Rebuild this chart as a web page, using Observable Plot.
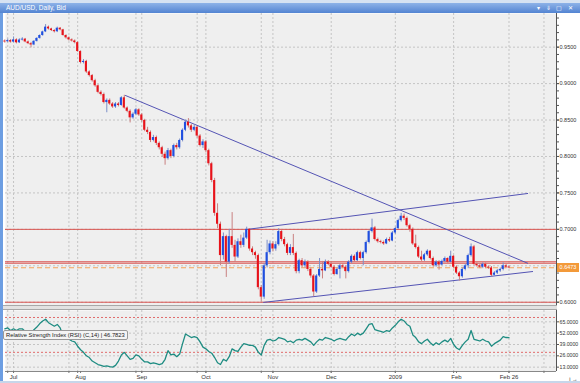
<!DOCTYPE html>
<html><head><meta charset="utf-8">
<script src="https://cdn.jsdelivr.net/npm/d3@7"></script>
<script src="https://cdn.jsdelivr.net/npm/@observablehq/plot@0.6"></script>
<style>
html,body{margin:0;padding:0;background:#fff;}
#win{position:relative;width:580px;height:383px;overflow:hidden;background:#fff;font-family:"Liberation Sans",Arial,sans-serif;}
#tab{position:absolute;left:0;top:0;width:580px;height:3px;background:#d6e2f2;}
#title{position:absolute;left:0;top:3px;width:580px;height:10px;background:linear-gradient(#8db2e8,#5384d2);}
#title span{position:absolute;left:6px;top:1px;font-size:6.5px;color:#fff;line-height:8px;}
#icons{position:absolute;right:5px;top:1px;font-size:6px;color:#fff;line-height:8px;letter-spacing:2px;}
#leftbar{position:absolute;left:0;top:13px;width:3px;height:370px;background:#6d9ee2;}
#price{position:absolute;left:0;top:13px;}
#sep{position:absolute;left:3px;top:305px;width:554px;height:5px;background:#e2e2e2;border-top:1px solid #a8a8a8;border-bottom:1px solid #a8a8a8;box-sizing:border-box;}
#rsi{position:absolute;left:0;top:310px;}
#pricetag{position:absolute;left:557px;width:22px;height:9px;background:#f39a3a;color:#fff;font-size:5.5px;line-height:9px;text-align:center;}
#rsilabel{position:absolute;left:3px;top:330px;height:8px;padding:0 2px;background:#f4f4f4;border:1px solid #999;border-radius:2px;font-size:5.8px;line-height:8px;color:#222;white-space:nowrap;}
#bottombar{position:absolute;left:0;top:381px;width:580px;height:2px;background:#c7d6ea;}
</style></head>
<body>
<div id="win">
  <div id="tab"></div>
  <div id="title"><span>AUD/USD, Daily, Bid</span><div id="icons">▾ ⇓ ▢ ✕</div></div>
  <div id="price"></div>
  <div id="sep"></div>
  <div id="rsi"></div>
  <div id="leftbar"></div>
  <div id="bottombar"></div>
</div>
<script>
// ---- data (trading-day index 0 = Jun 26 2008, 173 = Feb 26 2009) ----
const firstOpen = 0.9580;
const closes = [
0.9575,0.9590,0.9570,0.9600,0.9560,0.9598,0.9610,0.9572,0.9548,0.9530,
0.9580,0.9620,0.9660,0.9710,0.9775,0.9750,0.9728,0.9712,0.9760,0.9738,
0.9660,0.9628,0.9600,0.9585,0.9562,0.9440,0.9290,0.9305,0.9160,0.9110,
0.9040,0.8970,0.8880,0.8850,0.8740,0.8770,0.8720,0.8680,0.8720,0.8700,
0.8805,0.8665,0.8620,0.8530,0.8580,0.8640,0.8570,0.8495,0.8360,0.8330,
0.8220,0.8260,0.8180,0.8120,0.8030,0.7970,0.8080,0.8000,0.8150,0.8120,
0.8220,0.8360,0.8470,0.8420,0.8360,0.8400,0.8280,0.8150,0.8200,0.8080,
0.7900,0.7670,0.7220,0.7070,0.6640,0.6900,0.6550,0.6900,0.6780,0.6620,
0.6830,0.6780,0.6880,0.7000,0.6730,0.6680,0.6640,0.6200,0.6070,0.6500,
0.6680,0.6800,0.6730,0.6790,0.6970,0.6860,0.6790,0.6670,0.6750,0.6670,
0.6420,0.6570,0.6500,0.6550,0.6450,0.6360,0.6140,0.6360,0.6450,0.6430,
0.6550,0.6520,0.6480,0.6380,0.6450,0.6500,0.6480,0.6420,0.6550,0.6630,
0.6570,0.6680,0.6600,0.6680,0.6820,0.6970,0.7020,0.6860,0.6830,0.6820,
0.6800,0.6860,0.6840,0.6950,0.7010,0.7120,0.7180,0.7150,0.7050,0.7000,
0.6800,0.6750,0.6620,0.6580,0.6650,0.6700,0.6600,0.6500,0.6550,0.6510,
0.6560,0.6600,0.6550,0.6630,0.6480,0.6400,0.6350,0.6450,0.6500,0.6640,
0.6760,0.6520,0.6500,0.6480,0.6520,0.6480,0.6470,0.6370,0.6400,0.6430,
0.6450,0.6500,0.6480,0.6473];
const highs = [
0.9600,0.9610,0.9605,0.9640,0.9615,0.9615,0.9630,0.9620,0.9585,0.9565,
0.9590,0.9630,0.9670,0.9720,0.9810,0.9790,0.9760,0.9740,0.9775,0.9770,
0.9745,0.9670,0.9640,0.9615,0.9600,0.9575,0.9450,0.9330,0.9320,0.9175,
0.9125,0.9060,0.8985,0.8900,0.8870,0.8790,0.8790,0.8740,0.8740,0.8740,
0.8820,0.8840,0.8680,0.8640,0.8600,0.8660,0.8655,0.8590,0.8510,0.8400,
0.8350,0.8290,0.8280,0.8200,0.8140,0.8060,0.8110,0.8100,0.8170,0.8180,
0.8240,0.8380,0.8500,0.8520,0.8440,0.8430,0.8410,0.8300,0.8230,0.8220,
0.8100,0.7920,0.7700,0.7350,0.7100,0.6950,0.6920,0.7000,0.7230,0.6850,
0.6870,0.6920,0.6950,0.7030,0.7010,0.6760,0.6700,0.6660,0.6230,0.6530,
0.6850,0.6840,0.6830,0.6830,0.7010,0.6990,0.6890,0.6810,0.6790,0.6930,
0.6690,0.6590,0.6600,0.6580,0.6570,0.6470,0.6380,0.6380,0.6600,0.6560,
0.6580,0.6570,0.6540,0.6500,0.6470,0.6520,0.6520,0.6500,0.6570,0.6650,
0.6650,0.6700,0.6700,0.6700,0.6840,0.6990,0.7140,0.7040,0.6880,0.6850,
0.6840,0.6880,0.6890,0.6970,0.7030,0.7140,0.7220,0.7210,0.7170,0.7070,
0.7020,0.6920,0.6770,0.6700,0.6670,0.6720,0.6710,0.6620,0.6570,0.6570,
0.6580,0.6620,0.6610,0.6700,0.6640,0.6500,0.6420,0.6470,0.6520,0.6660,
0.6800,0.6780,0.6540,0.6520,0.6540,0.6540,0.6500,0.6490,0.6420,0.6450,
0.6470,0.6540,0.6520,0.6500];
const lows = [
0.9555,0.9560,0.9555,0.9560,0.9545,0.9550,0.9585,0.9560,0.9535,0.9490,
0.9520,0.9570,0.9610,0.9650,0.9700,0.9735,0.9715,0.9695,0.9700,0.9725,
0.9650,0.9610,0.9585,0.9570,0.9545,0.9430,0.9270,0.9270,0.9140,0.9090,
0.9020,0.8950,0.8860,0.8830,0.8720,0.8600,0.8700,0.8660,0.8660,0.8680,
0.8690,0.8650,0.8600,0.8460,0.8510,0.8560,0.8550,0.8470,0.8340,0.8300,
0.8190,0.8200,0.8150,0.8090,0.7990,0.7880,0.7950,0.7970,0.7980,0.8090,
0.8100,0.8200,0.8340,0.8390,0.8330,0.8340,0.8250,0.8130,0.8110,0.8050,
0.7870,0.7640,0.7180,0.7010,0.6500,0.6580,0.6340,0.6520,0.6740,0.6550,
0.6600,0.6740,0.6750,0.6860,0.6700,0.6640,0.6590,0.6170,0.6003,0.6040,
0.6470,0.6650,0.6690,0.6700,0.6770,0.6830,0.6760,0.6640,0.6640,0.6640,
0.6390,0.6390,0.6470,0.6470,0.6420,0.6330,0.6075,0.6120,0.6340,0.6320,
0.6420,0.6500,0.6460,0.6360,0.6370,0.6320,0.6460,0.6320,0.6400,0.6530,
0.6550,0.6560,0.6580,0.6500,0.6660,0.6800,0.6950,0.6840,0.6810,0.6800,
0.6780,0.6790,0.6820,0.6830,0.6930,0.7000,0.7100,0.7120,0.7030,0.6960,
0.6780,0.6730,0.6600,0.6560,0.6560,0.6630,0.6580,0.6480,0.6480,0.6440,
0.6500,0.6540,0.6530,0.6540,0.6460,0.6380,0.6290,0.6330,0.6430,0.6460,
0.6620,0.6500,0.6480,0.6460,0.6460,0.6460,0.6450,0.6350,0.6360,0.6380,
0.6410,0.6430,0.6460,0.6460];
const rsiValues = [
57,58,55,57,55,57,57,54,53,52,
56,59,63,66,68,64,62,60,62,58,
49,47,45,43,42,37,33,30,26,24,
20,18,16,15,14,14.5,13.5,13,15,20,
27,30,26,22,23,27,26,22,19,19,
17,18,17,16,17,22,32,27,28,25,
28,40,51,49,47,48,47,42,36,34,
31,29,24,18,16,22,20,25,34,32,
31,36,40,39,38,38,36,30,27,38,
44,45,43,44,47,46,45,42,43,41,
44,45,44,46,44,42,38,42,45,44,
47,46,45,43,45,46,45,44,48,51,
49,52,50,52,57,62,63,56,55,54,
53,55,54,58,61,65,68,66,62,60,
50,47,42,40,43,45,41,38,41,39,
42,44,42,46,39,35,33,38,42,45,
55,45,44,43,45,43,42,37,40,42,
44,48,47,46.7823];
// axis ticks / labels
const monthIdx = [3, 26, 47, 69, 92, 112, 134, 155, 173];
const monthLabels = ["Jul","Aug","Sep","Oct","Nov","Dec","2009","Feb","Feb 26"];
const gridIdx = [1, 3, 22, 25, 45, 47, 66, 69, 88, 92, 112, 134, 154, 173, 185];
const priceTicks = [0.60, 0.65, 0.70, 0.75, 0.80, 0.85, 0.90, 0.95];
const rsiTicks = [13, 26, 39, 52, 65];
const rsiBands = [30, 70];
// drawn lines
const redLevels = [0.70, 0.6555, 0.6535, 0.60];
const downX = [41.4, 179.4], downY = [0.8837, 0.6535];
const upX = [82.9, 179.4], upY = [0.6998, 0.7492];
const lowX = [88.8, 181.1], lowY = [0.5998, 0.6421];

// ---- build ----
const candles = closes.map((c, i) => {
  const o = i === 0 ? firstOpen : closes[i - 1];
  let b1 = Math.min(o, c), b2 = Math.max(o, c);
  if (b2 - b1 < 0.0012) { const m = (b1 + b2) / 2; b1 = m - 0.0006; b2 = m + 0.0006; }
  return {i, o, c, h: highs[i], l: lows[i], b1, b2, up: c >= o};
});
const upC = candles.filter(d => d.up), dnC = candles.filter(d => !d.up);
const xDomain = [0.24, 189.3];
const RED = "#e8121a", BLUE = "#1f4fe0";
const seg = (xs, ys) => xs.map((x, k) => ({x, y: ys[k]}));
const minorTicks = d3.range(60, 100, 1).map(v => v / 100);
const fontStyle = {fontFamily: "'Liberation Sans', Arial, sans-serif", fontSize: "5.5px", color: "#333", background: "transparent", overflow: "visible"};

const price = Plot.plot({
  width: 580, height: 292,
  marginLeft: 5, marginRight: 24, marginTop: 0, marginBottom: 0,
  style: fontStyle,
  x: {domain: xDomain, axis: null},
  y: {domain: [0.5955, 0.9962]},
  marks: [
    Plot.frame({fill: "#efefef", stroke: null}),
    Plot.ruleY(priceTicks, {stroke: "#c4c4c4", strokeDasharray: "2,2"}),
    Plot.ruleX(gridIdx, {stroke: "#c4c4c4", strokeDasharray: "2,2"}),
    Plot.ruleY(redLevels, {stroke: "#d9534f", strokeWidth: 1}),
    Plot.ruleY([closes[closes.length - 1]], {stroke: "#f5a25a", strokeDasharray: "5,3", strokeWidth: 1}),
    Plot.line(seg(downX, downY), {x: "x", y: "y", stroke: "#5454b4", strokeWidth: 1}),
    Plot.line(seg(upX, upY), {x: "x", y: "y", stroke: "#5454b4", strokeWidth: 1}),
    Plot.line(seg(lowX, lowY), {x: "x", y: "y", stroke: "#5454b4", strokeWidth: 1}),
    Plot.ruleX(upC, {x: "i", y1: "l", y2: "h", stroke: "#7d8fc8", strokeWidth: 1}),
    Plot.ruleX(dnC, {x: "i", y1: "l", y2: "h", stroke: "#c98080", strokeWidth: 1}),
    Plot.rect(upC, {x1: d => d.i - 0.36, x2: d => d.i + 0.36, y1: "b1", y2: "b2", fill: BLUE}),
    Plot.rect(dnC, {x1: d => d.i - 0.36, x2: d => d.i + 0.36, y1: "b1", y2: "b2", fill: RED}),
    Plot.ruleX([xDomain[1]], {stroke: "#555"}),
    Plot.axisY({anchor: "right", ticks: minorTicks, tickSize: 2, text: null, stroke: "#555"}),
    Plot.axisY({anchor: "right", ticks: priceTicks, tickSize: 2, tickPadding: 1, tickFormat: d3.format(".4f"), fill: "#333", stroke: "#555", label: null, fontSize: 5.5})
  ]
});
document.getElementById("price").appendChild(price);

const rsiData = rsiValues.map((r, i) => ({i, r}));
const rsi = Plot.plot({
  width: 580, height: 73,
  marginLeft: 5, marginRight: 24, marginTop: 0, marginBottom: 12,
  style: fontStyle,
  x: {domain: xDomain},
  y: {domain: [8, 78]},
  marks: [
    Plot.frame({fill: "#efefef", stroke: null}),
    Plot.ruleY(rsiTicks, {stroke: "#c4c4c4", strokeDasharray: "2,2"}),
    Plot.ruleX(gridIdx, {stroke: "#c4c4c4", strokeDasharray: "2,2"}),
    Plot.ruleY(rsiBands, {stroke: "#e06a6a", strokeDasharray: "2,2"}),
    Plot.line(rsiData, {x: "i", y: "r", stroke: "#1e8c82", strokeWidth: 1.3}),
    Plot.ruleX([xDomain[1]], {stroke: "#555"}),
    Plot.axisY({anchor: "right", ticks: rsiTicks, tickSize: 2, tickPadding: 1, tickFormat: d3.format(".4f"), fill: "#333", stroke: "#555", label: null, fontSize: 5.2}),
    Plot.ruleY([8], {stroke: "#888"}),
    Plot.axisX({anchor: "bottom", ticks: gridIdx, tickSize: 2, text: null, stroke: "#777"}),
    Plot.axisX({anchor: "bottom", ticks: monthIdx, tickSize: 2, tickPadding: 1, tickFormat: d => monthLabels[monthIdx.indexOf(d)], fill: "#333", stroke: "#777", label: null, fontSize: 6})
  ]
});
document.getElementById("rsi").appendChild(rsi);

// price tag and RSI legend (values come from the data arrays)
const win = document.getElementById("win");
const last = closes[closes.length - 1];
const tag = document.createElement("div");
tag.id = "pricetag";
tag.textContent = d3.format(".4f")(last);
tag.style.top = (13 + price.scale("y").apply(last) - 4.5) + "px";
win.appendChild(tag);
const lab = document.createElement("div");
lab.id = "rsilabel";
lab.textContent = "Relative Strength Index (RSI) (C,14) | " + d3.format(".4f")(rsiValues[rsiValues.length - 1]);
win.appendChild(lab);
</script>
</body></html>
